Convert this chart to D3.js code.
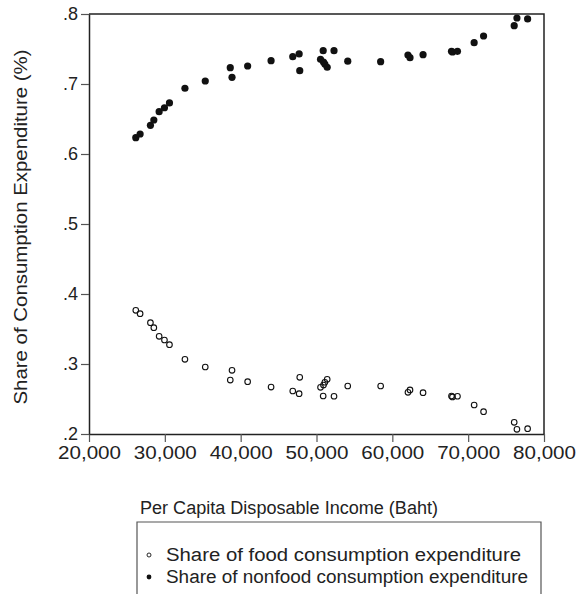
<html>
<head>
<script src="https://d3js.org/d3.v7.min.js"></script>
<style>
body { margin: 0; background: #fff; }
svg text { font-family: 'Liberation Sans', Arial, sans-serif; fill: #222; }
</style>
</head>
<body>
<div id="plot"></div>
<script>

var width = 581;
var height = 594;

// Per capita disposable income (Baht) for each observation
var income = [26170, 26740, 28100, 28550, 29250, 29950, 30610, 32650, 35330, 38630,
	38860, 40920, 44010, 46870, 47710, 47790, 50530, 50880, 50920, 51100,
	51410, 52310, 54120, 58460, 62060, 62330, 64050, 67800, 67930, 68590,
	70790, 72030, 76070, 76430, 77840];

// Share of food consumption expenditure
var foodShare = [.3767, .3719, .359, .3519, .3396, .3343, .3276, .3067, .2957, .2771,
	.291, .2747, .2671, .2614, .2576, .281, .2667, .2543, .27, .2739,
	.2781, .2539, .2686, .2686, .2596, .2629, .259, .2543, .2529, .2539,
	.2414, .2319, .2167, .2067, .2076];

// Share of nonfood consumption expenditure
var nonfoodShare = [.6233, .6286, .641, .6486, .6604, .6661, .6729, .6939, .7043, .7233,
	.7096, .7257, .7333, .739, .7429, .719, .7353, .7476, .7314, .7286,
	.7239, .7476, .7326, .7319, .7414, .7376, .7419, .7467, .7457, .7467,
	.759, .7686, .7833, .7943, .7929];

var xTicks = [20000, 30000, 40000, 50000, 60000, 70000, 80000];
var yTicks = [.2, .3, .4, .5, .6, .7, .8];
var legendLabels = ["Share of food consumption expenditure", "Share of nonfood consumption expenditure"];

var plotLeft = 89, plotRight = 544, plotTop = 14, plotBottom = 434;

var svg = d3.select("#plot").append("svg").attr("width", width).attr("height", height);

var xScale = d3.scaleLinear().domain([20000, 80000]).range([plotLeft, plotRight]);
var yScale = d3.scaleLinear().domain([.2, .8]).range([plotBottom, plotTop]);

// frame (top and right sides)
svg.append("path")
.attr("d", "M" + plotLeft + "," + plotTop + "H" + plotRight + "V" + plotBottom)
.style("fill", "none").style("stroke", "#222").style("stroke-width", 1.5);

var xAxis = svg.append("g").attr("transform", "translate(0," + plotBottom + ")")
.call(d3.axisBottom(xScale).tickValues(xTicks).tickSize(8).tickSizeOuter(0)
	.tickFormat(d3.format(",")));

var yAxis = svg.append("g").attr("transform", "translate(" + plotLeft + ",0)")
.call(d3.axisLeft(yScale).tickValues(yTicks).tickSize(8).tickSizeOuter(0)
	.tickFormat(function(d) { return d3.format(".1f")(d).replace(/^0/, ""); }));

[xAxis, yAxis].forEach(function(g) {
	g.select(".domain").style("stroke", "#222").style("stroke-width", 1.5);
	g.selectAll(".tick line").style("stroke", "#555").style("stroke-width", 1.2);
	g.selectAll(".tick text").style("font-size", "19px").style("fill", "#222")
	.style("font-family", "'Liberation Sans', Arial, sans-serif");
});
xAxis.selectAll(".tick text").attr("y", 10).attr("dy", "0.8em")
.attr("textLength", 63).attr("lengthAdjust", "spacingAndGlyphs");
yAxis.selectAll(".tick text").attr("x", -11).style("font-size", "18px");

svg.append("text")
.attr("transform", "translate(27," + ((plotTop + plotBottom) / 2 + 3) + ") rotate(-90)")
.attr("text-anchor", "middle")
.style("font-size", "18px")
.attr("textLength", 355).attr("lengthAdjust", "spacingAndGlyphs")
.text("Share of Consumption Expenditure (%)");

svg.append("text")
.attr("x", 289).attr("y", 514)
.attr("text-anchor", "middle")
.style("font-size", "18px")
.attr("textLength", 298).attr("lengthAdjust", "spacingAndGlyphs")
.text("Per Capita Disposable Income (Baht)");

var nonfood = svg.selectAll(".nonfood").data(income)
.enter().append("circle")
.attr("class", "nonfood")
.attr("cx", function(d) { return xScale(d); })
.attr("cy", function(d, i) { return yScale(nonfoodShare[i]); })
.attr("r", 3.6)
.style("fill", "#111");

var food = svg.selectAll(".food").data(income)
.enter().append("circle")
.attr("class", "food")
.attr("cx", function(d) { return xScale(d); })
.attr("cy", function(d, i) { return yScale(foodShare[i]); })
.attr("r", 2.8)
.style("fill", "none")
.style("stroke", "#111")
.style("stroke-width", 1.1);

// legend
svg.append("path")
.attr("d", "M137,600V522H541V600")
.style("fill", "none").style("stroke", "#555").style("stroke-width", 1.2);

var legendWidths = [355, 362];

var legend = svg.selectAll(".legend").data(legendLabels)
.enter().append("g")
.attr("class", "legend")
.attr("transform", function(d, i) { return "translate(0," + (561 + i * 22) + ")"; });

legend.append("circle")
.attr("cx", 149).attr("cy", -6)
.attr("r", function(d, i) { return i == 0 ? 2 : 2.4; })
.style("fill", function(d, i) { return i == 0 ? "none" : "#111"; })
.style("stroke", "#111").style("stroke-width", function(d, i) { return i == 0 ? 0.9 : 0; });

legend.append("text")
.attr("x", 166).attr("y", 0)
.style("font-size", "18px")
.attr("textLength", function(d, i) { return legendWidths[i]; })
.attr("lengthAdjust", "spacingAndGlyphs")
.text(function(d) { return d; });

</script>
</body>
</html>
